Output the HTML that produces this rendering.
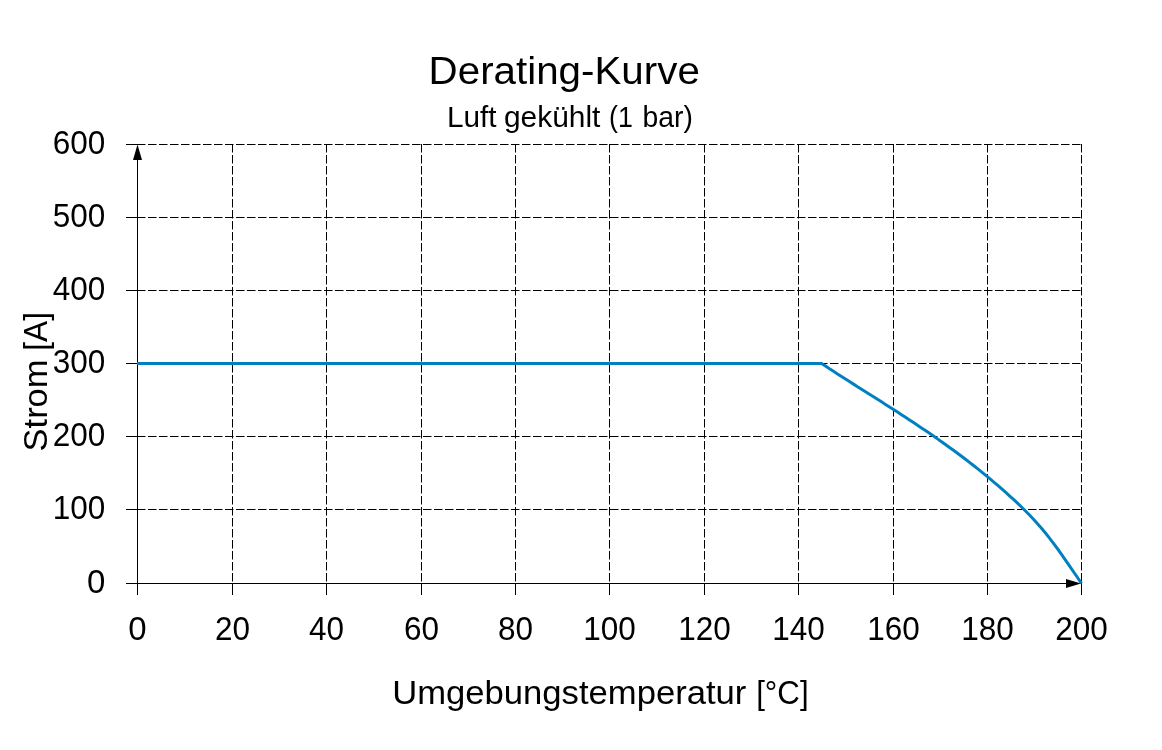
<!DOCTYPE html>
<html><head><meta charset="utf-8"><style>
html,body{margin:0;padding:0;background:#fff;width:1162px;height:750px;overflow:hidden}
svg{display:block;will-change:transform}
line{stroke:#000;stroke-width:1}
line.d{stroke-dasharray:8.5 2.5}
text{font-family:"Liberation Sans",sans-serif;fill:#000}
</style></head><body>
<svg width="1162" height="750" viewBox="0 0 1162 750">
<line x1="126" y1="509.5" x2="137" y2="509.5"/>
<line class="d" x1="137" y1="509.5" x2="1081.5" y2="509.5"/>
<line x1="126" y1="436.5" x2="137" y2="436.5"/>
<line class="d" x1="137" y1="436.5" x2="1081.5" y2="436.5"/>
<line x1="126" y1="363.5" x2="137" y2="363.5"/>
<line class="d" x1="137" y1="363.5" x2="1081.5" y2="363.5"/>
<line x1="126" y1="290.5" x2="137" y2="290.5"/>
<line class="d" x1="137" y1="290.5" x2="1081.5" y2="290.5"/>
<line x1="126" y1="217.5" x2="137" y2="217.5"/>
<line class="d" x1="137" y1="217.5" x2="1081.5" y2="217.5"/>
<line x1="126" y1="144.5" x2="137" y2="144.5"/>
<line class="d" x1="137" y1="144.5" x2="1081.5" y2="144.5"/>
<line class="d" x1="232.5" y1="144" x2="232.5" y2="583"/>
<line x1="232.5" y1="583" x2="232.5" y2="595"/>
<line class="d" x1="326.5" y1="144" x2="326.5" y2="583"/>
<line x1="326.5" y1="583" x2="326.5" y2="595"/>
<line class="d" x1="421.5" y1="144" x2="421.5" y2="583"/>
<line x1="421.5" y1="583" x2="421.5" y2="595"/>
<line class="d" x1="515.5" y1="144" x2="515.5" y2="583"/>
<line x1="515.5" y1="583" x2="515.5" y2="595"/>
<line class="d" x1="609.5" y1="144" x2="609.5" y2="583"/>
<line x1="609.5" y1="583" x2="609.5" y2="595"/>
<line class="d" x1="704.5" y1="144" x2="704.5" y2="583"/>
<line x1="704.5" y1="583" x2="704.5" y2="595"/>
<line class="d" x1="798.5" y1="144" x2="798.5" y2="583"/>
<line x1="798.5" y1="583" x2="798.5" y2="595"/>
<line class="d" x1="893.5" y1="144" x2="893.5" y2="583"/>
<line x1="893.5" y1="583" x2="893.5" y2="595"/>
<line class="d" x1="987.5" y1="144" x2="987.5" y2="583"/>
<line x1="987.5" y1="583" x2="987.5" y2="595"/>
<line class="d" x1="1081.5" y1="144" x2="1081.5" y2="583"/>
<line x1="1081.5" y1="583" x2="1081.5" y2="595"/>
<line x1="126" y1="583.5" x2="1070" y2="583.5"/>
<line x1="137.5" y1="595" x2="137.5" y2="156"/>
<path d="M137.5,144.5 L142,160 L133,160 Z" fill="#000" stroke="none"/>
<path d="M1081,583.5 L1066,579 L1066,588 Z" fill="#000" stroke="none"/>
<path d="M137,363.5 L821.50,363.50 L825.50,366.12 L829.50,368.73 L833.50,371.32 L837.50,373.90 L841.50,376.47 L845.50,379.03 L849.50,381.57 L853.50,384.11 L857.50,386.65 L861.50,389.18 L865.50,391.71 L869.50,394.24 L873.50,396.78 L877.50,399.31 L881.50,401.85 L885.50,404.40 L889.50,406.95 L893.50,409.52 L897.50,412.10 L901.50,414.69 L905.50,417.29 L909.50,419.91 L913.50,422.55 L917.50,425.21 L921.50,427.89 L925.50,430.60 L929.50,433.33 L933.50,436.09 L937.50,438.87 L941.50,441.69 L945.50,444.54 L949.50,447.42 L953.50,450.33 L957.50,453.29 L961.50,456.28 L965.50,459.31 L969.50,462.38 L973.50,465.50 L977.50,468.66 L981.50,471.87 L985.50,475.13 L989.50,478.44 L993.50,481.80 L997.50,485.21 L1001.50,488.68 L1005.50,492.21 L1009.50,495.79 L1013.50,499.45 L1017.50,503.18 L1021.50,507.01 L1025.50,510.97 L1029.50,515.05 L1033.50,519.29 L1037.50,523.69 L1041.50,528.28 L1045.50,533.06 L1049.50,538.07 L1053.50,543.31 L1057.50,548.76 L1061.50,554.38 L1065.50,560.11 L1069.50,565.92 L1073.50,571.74 L1077.50,577.52 L1081.50,583.50" fill="none" stroke="#0080c0" stroke-width="3" stroke-linejoin="round"/>
<text x="428.60" y="83.90" font-size="39.40" textLength="271.23" lengthAdjust="spacingAndGlyphs">Derating-Kurve</text>
<text x="447.00" y="126.85" font-size="29.30" textLength="49.61" lengthAdjust="spacingAndGlyphs">Luft</text>
<text x="504.00" y="126.85" font-size="29.30" textLength="96.40" lengthAdjust="spacingAndGlyphs">gekühlt</text>
<text x="609.00" y="126.85" font-size="29.30" textLength="23.79" lengthAdjust="spacingAndGlyphs">(1</text>
<text x="642.60" y="126.85" font-size="29.30" textLength="50.38" lengthAdjust="spacingAndGlyphs">bar)</text>
<text x="392.20" y="704.40" font-size="33.00" textLength="354.20" lengthAdjust="spacingAndGlyphs">Umgebungstemperatur</text>
<text x="756.20" y="704.40" font-size="33.00" textLength="52.45" lengthAdjust="spacingAndGlyphs">[°C]</text>
<text transform="translate(46.80,451.40) rotate(-90)" x="0" y="0" font-size="33.30" textLength="91.86" lengthAdjust="spacingAndGlyphs">Strom</text>
<text transform="translate(46.80,350.80) rotate(-90)" x="0" y="0" font-size="33.30" textLength="38.84" lengthAdjust="spacingAndGlyphs">[A]</text>
<text x="105.30" y="593.20" font-size="33.00" text-anchor="end">0</text>
<text x="105.30" y="519.20" font-size="33.00" text-anchor="end" textLength="52.58" lengthAdjust="spacingAndGlyphs">100</text>
<text x="105.30" y="446.20" font-size="33.00" text-anchor="end" textLength="52.58" lengthAdjust="spacingAndGlyphs">200</text>
<text x="105.30" y="373.20" font-size="33.00" text-anchor="end" textLength="52.58" lengthAdjust="spacingAndGlyphs">300</text>
<text x="105.30" y="300.20" font-size="33.00" text-anchor="end" textLength="52.58" lengthAdjust="spacingAndGlyphs">400</text>
<text x="105.30" y="227.20" font-size="33.00" text-anchor="end" textLength="52.58" lengthAdjust="spacingAndGlyphs">500</text>
<text x="105.30" y="154.20" font-size="33.00" text-anchor="end" textLength="52.58" lengthAdjust="spacingAndGlyphs">600</text>
<text x="137.50" y="639.80" font-size="33.00" text-anchor="middle">0</text>
<text x="232.50" y="639.80" font-size="33.00" text-anchor="middle" textLength="35.05" lengthAdjust="spacingAndGlyphs">20</text>
<text x="326.50" y="639.80" font-size="33.00" text-anchor="middle" textLength="35.05" lengthAdjust="spacingAndGlyphs">40</text>
<text x="421.50" y="639.80" font-size="33.00" text-anchor="middle" textLength="35.05" lengthAdjust="spacingAndGlyphs">60</text>
<text x="515.50" y="639.80" font-size="33.00" text-anchor="middle" textLength="35.05" lengthAdjust="spacingAndGlyphs">80</text>
<text x="609.50" y="639.80" font-size="33.00" text-anchor="middle" textLength="52.58" lengthAdjust="spacingAndGlyphs">100</text>
<text x="704.50" y="639.80" font-size="33.00" text-anchor="middle" textLength="52.58" lengthAdjust="spacingAndGlyphs">120</text>
<text x="798.50" y="639.80" font-size="33.00" text-anchor="middle" textLength="52.58" lengthAdjust="spacingAndGlyphs">140</text>
<text x="893.50" y="639.80" font-size="33.00" text-anchor="middle" textLength="52.58" lengthAdjust="spacingAndGlyphs">160</text>
<text x="987.50" y="639.80" font-size="33.00" text-anchor="middle" textLength="52.58" lengthAdjust="spacingAndGlyphs">180</text>
<text x="1081.50" y="639.80" font-size="33.00" text-anchor="middle" textLength="52.58" lengthAdjust="spacingAndGlyphs">200</text>
</svg>
</body></html>
